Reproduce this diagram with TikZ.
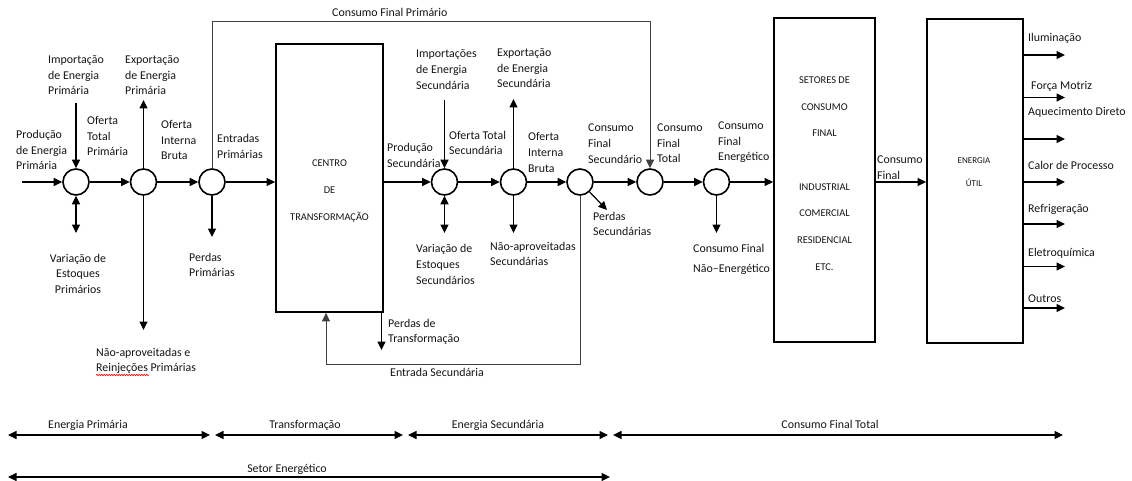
\documentclass[tikz,border=0pt]{standalone}
\usepackage{fontspec}
\setmainfont{Carlito}
\usetikzlibrary{arrows.meta,decorations.pathmorphing}

\begin{document}
\begin{tikzpicture}[x=1pt,y=-1pt,
  every node/.style={inner sep=0pt, text=black!92},
  % multi-line labels are placed by the baseline of their last line
  lbl/.style={font=\fontsize{11.9}{15.5}\selectfont, align=left, anchor=base west},
  clbl/.style={font=\fontsize{11.9}{15.5}\selectfont, align=center, anchor=base},
  caps/.style={font=\fontsize{10.4}{27}\selectfont, align=center, anchor=base},
  junction/.style={circle, draw=black, line width=1.6pt, minimum size=26pt},
  blockbox/.style={rectangle, draw=black, line width=1.8pt},
  flow/.style={-{Triangle[length=8.5pt,width=8pt]}, line width=1.2pt, draw=black},
  flowboth/.style={{Triangle[length=8.5pt,width=8pt]}-{Triangle[length=8.5pt,width=8pt]}, line width=1.2pt, draw=black},
  route/.style={line width=1pt, draw=black!75},
]
\useasboundingbox (0,0) rectangle (1132,481);

% ---- main chain of junctions ----
\node[junction] (c1) at (76,182) {};
\node[junction] (c2) at (143.5,182) {};
\node[junction] (c3) at (212,182) {};
\node[junction] (c4) at (444.5,182) {};
\node[junction] (c5) at (513.5,182) {};
\node[junction] (c6) at (580,182) {};
\node[junction] (c7) at (650,182) {};
\node[junction] (c8) at (716.5,182) {};

% ---- blocks ----
\node[blockbox, minimum width=107pt, minimum height=268pt] (trans) at (329.5,178) {};
\node[blockbox, minimum width=101pt, minimum height=324pt] (setores) at (824.5,180) {};
\node[blockbox, minimum width=96pt, minimum height=324pt] (util) at (975,181) {};

\node[caps] (transtxt) at (329.5,220.5) {CENTRO\\DE\\TRANSFORMAÇÃO};
\node[caps, font=\fontsize{10.4}{26.7}\selectfont] (settxt) at (824.5,270.4) {SETORES DE\\CONSUMO\\FINAL\\[26.7pt]INDUSTRIAL\\COMERCIAL\\RESIDENCIAL\\ETC.};
\node[caps, font=\fontsize{9}{22}\selectfont] (utiltxt) at (974,186) {ENERGIA\\ÚTIL};

% ---- free ends ----
\coordinate (prod) at (22,182);
\coordinate (imp1) at (76,103);
\coordinate (var1) at (76,233);
\coordinate (exp1) at (143.5,100);
\coordinate (rej1) at (143.5,330);
\coordinate (perd1) at (212,237);
\coordinate (cfp) at (212,22);
\coordinate (imp2) at (444.5,100);
\coordinate (var2) at (444.5,233);
\coordinate (exp2) at (513.5,99);
\coordinate (nap2) at (513.5,233);
\coordinate (perd2) at (607,210);
\coordinate (entsec) at (326,364);
\coordinate (ptrans) at (381.5,350);
\coordinate (cfne) at (716.5,233);

% ---- primary energy flows ----
\draw[flow] (prod) -- (c1);
\draw[flow] (c1) -- (c2);
\draw[flow] (c2) -- (c3);
\draw[flow] (c3) -- (c3 -| trans.west);
\draw[flow] (imp1) -- (c1);
\draw[flowboth] (c1) -- (var1);
\draw[flow] (c2) -- (exp1);
\draw[flow] (c2) -- (rej1);
\draw[flow] (c3) -- (perd1);
\draw[route, -{Triangle[length=8.5pt,width=8pt]}] (c3) -- (cfp) -| (c7);

% ---- secondary energy flows ----
\draw[flow] (c4 -| trans.east) -- (c4);
\draw[flow] (c4) -- (c5);
\draw[flow] (c5) -- (c6);
\draw[flow] (c6) -- (c7);
\draw[flow] (c7) -- (c8);
\draw[flow] (c8) -- (c8 -| setores.west);
\draw[flow] (imp2) -- (c4);
\draw[flowboth] (c4) -- (var2);
\draw[flow] (c5) -- (exp2);
\draw[flow] (c5) -- (nap2);
\draw[flow] (c6) -- (perd2);
\draw[flow] (ptrans |- trans.south) -- (ptrans);
\draw[route, -{Triangle[length=8.5pt,width=8pt]}] (c6) |- (entsec) -- (entsec |- trans.south);
\draw[flow] (c8) -- (cfne);
\draw[flow] (setores.east |- c8) -- (util.west |- c8);

% ---- useful energy outputs ----
\foreach \n/\y in {o1/55, o2/97.5, o3/139, o4/182, o5/224, o6/266.5, o7/308}{
  \coordinate (\n) at (1065,\y);
  \draw[flow] (util.east |- \n) -- (\n);
}

% ---- labels ----
\node[lbl] (l1) at (16,170) {Produção\\de Energia\\Primária};
\node[lbl] (l2) at (48,95) {Importação\\de Energia\\Primária};
\node[lbl] (l3) at (125,95) {Exportação\\de Energia\\Primária};
\node[lbl] (l4) at (87,156) {Oferta\\Total\\Primária};
\node[lbl] (l5) at (161,160) {Oferta\\Interna\\Bruta};
\node[lbl] (l6) at (217,158.5) {Entradas\\Primárias};
\node[clbl] (l7) at (78,293) {Variação de\\Estoques\\Primários};
\node[lbl] (l8) at (189,276.5) {Perdas\\Primárias};
\node[lbl] (l9) at (96,371.5) {Não-aproveitadas e\\Reinjeções Primárias};
\draw[red, line width=0.6pt, decorate, decoration={snake, amplitude=0.7pt, segment length=2.5pt}]
  (96,375) -- (149,375);
\node[lbl] (l10) at (332,17) {Consumo Final Primário};
\node[lbl, font=\fontsize{11.9}{16}\selectfont] (l11) at (416,90) {Importações\\de Energia\\Secundária};
\node[lbl] (l12) at (497,88) {Exportação\\de Energia\\Secundária};
\node[lbl, font=\fontsize{11.9}{16}\selectfont] (l13) at (387,168) {Produção\\Secundária};
\node[lbl, font=\fontsize{11.9}{15}\selectfont] (l14) at (449,155) {Oferta Total\\Secundária};
\node[lbl, font=\fontsize{11.9}{16}\selectfont] (l15) at (528,173) {Oferta\\Interna\\Bruta};
\node[lbl, font=\fontsize{11.9}{16}\selectfont] (l16) at (588,164) {Consumo\\Final\\Secundário};
\node[lbl, font=\fontsize{11.9}{16}\selectfont] (l17) at (416,284) {Variação de\\Estoques\\Secundários};
\node[lbl, font=\fontsize{11.9}{15}\selectfont] (l18) at (490,265) {Não-aproveitadas\\Secundárias};
\node[lbl, font=\fontsize{11.9}{15}\selectfont] (l19) at (593,236) {Perdas\\Secundárias};
\node[lbl] (l20) at (388,342.5) {Perdas de\\Transformação};
\node[lbl] (l21) at (390,376) {Entrada Secundária};
\node[lbl] (l22) at (657,163) {Consumo\\Final\\Total};
\node[lbl] (l23) at (718,161) {Consumo\\Final\\Energético};
\node[lbl, font=\fontsize{11.9}{20}\selectfont] (l24) at (693,272) {Consumo Final\\Não–Energético};
\node[lbl, font=\fontsize{11.9}{16}\selectfont] (l25) at (877,180) {Consumo\\Final};
\node[lbl] (u1) at (1028,42) {Iluminação};
\node[lbl] (u2) at (1031,90) {Força Motriz};
\node[lbl] (u3) at (1028,116) {Aquecimento Direto};
\node[lbl] (u4) at (1028,170) {Calor de Processo};
\node[lbl] (u5) at (1028,212) {Refrigeração};
\node[lbl] (u6) at (1028,256) {Eletroquímica};
\node[lbl] (u7) at (1028,302) {Outros};

% ---- scale of sectors ----
\coordinate (s0) at (8,435);
\coordinate (s1a) at (210,435);
\coordinate (s1b) at (215,435);
\coordinate (s2a) at (403,435);
\coordinate (s2b) at (408,435);
\coordinate (s3a) at (608,435);
\coordinate (s3b) at (613,435);
\coordinate (s4) at (1063,435);
\coordinate (t0) at (8,477);
\coordinate (t1) at (610,477);
\draw[flowboth] (s0) -- (s1a);
\draw[flowboth] (s1b) -- (s2a);
\draw[flowboth] (s2b) -- (s3a);
\draw[flowboth] (s3b) -- (s4);
\draw[flowboth] (t0) -- (t1);
\node[clbl] (b1) at (88,428) {Energia Primária};
\node[clbl] (b2) at (305,428) {Transformação};
\node[clbl] (b3) at (498,428) {Energia Secundária};
\node[clbl] (b4) at (830,428) {Consumo Final Total};
\node[clbl] (b5) at (287,472) {Setor Energético};
\end{tikzpicture}
\end{document}
